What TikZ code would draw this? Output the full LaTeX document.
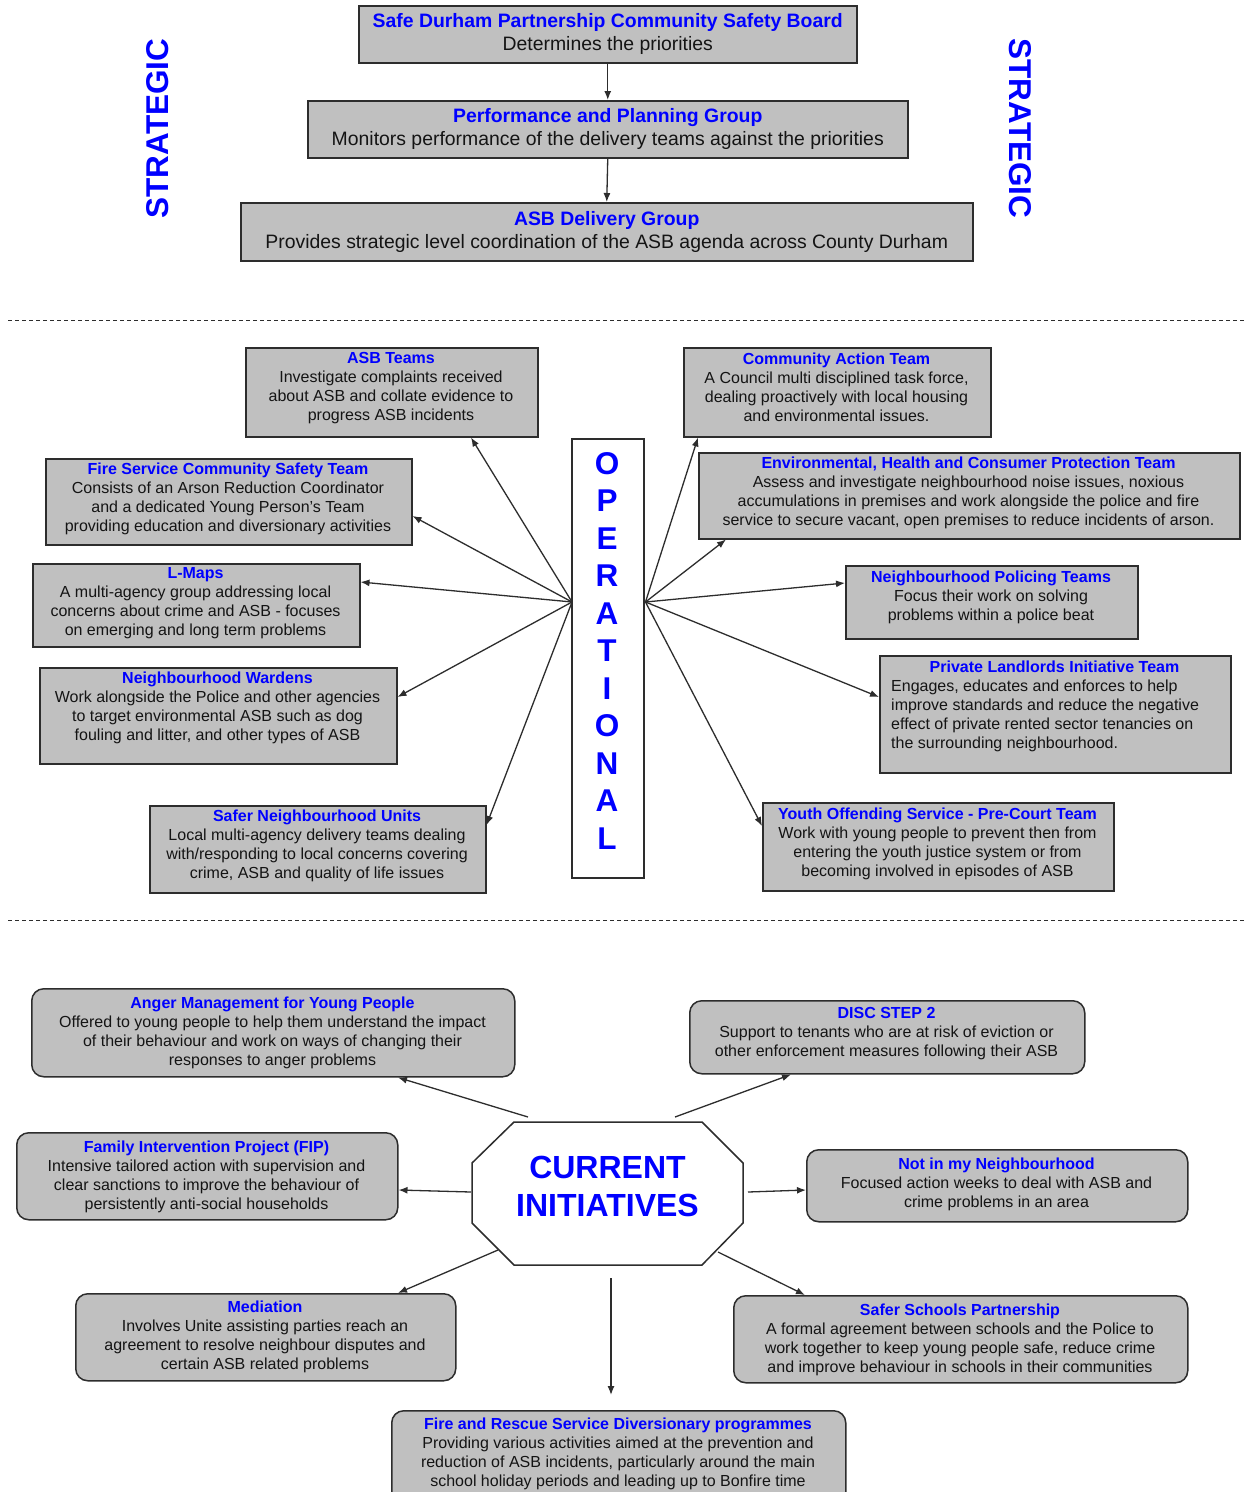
\documentclass[tikz,border=0pt]{standalone}
\usepackage{fontspec}
\setmainfont{Liberation Sans}
\usetikzlibrary{arrows.meta,calc}
\definecolor{boxgray}{RGB}{192,192,192}
\definecolor{hblue}{RGB}{0,0,255}
\definecolor{bordc}{RGB}{45,45,45}
\definecolor{txtc}{RGB}{20,20,20}
\newcommand{\hd}[1]{{\bfseries\color{hblue}#1}}
\newcommand{\bodyf}{\fontsize{16}{19}\selectfont}
\newcommand{\topf}{\fontsize{19.4}{23}\selectfont}
\begin{document}
\begin{tikzpicture}[x=1pt,y=-1pt,
 box/.style={draw=bordc, fill=boxgray, line width=1.5pt, inner sep=0pt, anchor=north west},
 rbox/.style={box, rounded corners=12pt},
 txt/.style={align=center, font=\bodyf, inner sep=0pt, anchor=north, text=txtc},
 arr/.style={draw=bordc, line width=1.3pt, -{Latex[length=9pt,width=7pt]}},
 sepline/.style={draw=bordc, line width=1pt, dash pattern=on 4pt off 3pt},
 big/.style={font=\fontsize{31.5}{37.5}\selectfont\bfseries, text=hblue, inner sep=0pt, align=center}
]
\fill[white] (0,0) rectangle (1247,1492);
\useasboundingbox (0,0) rectangle (1247,1492);

% ---------- strategic ----------
\node[box, minimum width=498, minimum height=57, align=center, font=\topf, text=txtc] (sdp) at (358,5)
  {\hd{Safe Durham Partnership Community Safety Board}\\Determines the priorities};
\node[box, minimum width=600, minimum height=57, align=center, font=\topf, text=txtc] (ppg) at (307,100)
  {\hd{Performance and Planning Group}\\Monitors performance of the delivery teams against the priorities};
\node[box, minimum width=732, minimum height=58, align=center, font=\topf, text=txtc] (adg) at (240,202)
  {\hd{ASB Delivery Group}\\Provides strategic level coordination of the ASB agenda across County Durham};
\draw[arr] (sdp.south) -- (ppg.north);
\draw[arr] (ppg.south) -- (adg.north);
\node[big, rotate=90] (sl) at (158,128.5) {STRATEGIC};
\node[big, rotate=-90] (sr) at (1020,128.5) {STRATEGIC};

\draw[sepline] (8,320) -- (1247,320);
\draw[sepline] (8,920) -- (1247,920);

% ---------- operational ----------
\node[draw=bordc, fill=white, line width=1.5pt, minimum width=72, minimum height=439, anchor=north west, inner sep=0pt] (op) at (571,438) {};
\node[big] (opt) at (607,650.5) {O\\P\\E\\R\\A\\T\\I\\O\\N\\A\\L};
\coordinate (opL) at ($(op.north west)+(1,164)$);
\coordinate (opR) at ($(op.north east)+(1,164)$);

\node[box, minimum width=292, minimum height=89] (asb) at (245,347) {};
\node[txt] (asbt) at (391,352.5) {\hd{ASB Teams}\\Investigate complaints received\\about ASB and collate evidence to\\progress ASB incidents};

\node[box, minimum width=366, minimum height=86] (fire) at (45,458) {};
\node[txt] (firet) at (228,462.5) {\hd{Fire Service Community Safety Team}\\Consists of an Arson Reduction Coordinator\\and a dedicated Young Person's Team\\providing education and diversionary activities};

\node[box, minimum width=327, minimum height=83] (lmap) at (32,563) {};
\node[txt] (lmapt) at (195.5,567.5) {\hd{L-Maps}\\A multi-agency group addressing local\\concerns about crime and ASB - focuses\\on emerging and long term problems};

\node[box, minimum width=357, minimum height=96] (nw) at (39,667) {};
\node[txt] (nwt) at (217.5,671.5) {\hd{Neighbourhood Wardens}\\Work alongside the Police and other agencies\\to target environmental ASB such as dog\\fouling and litter, and other types of ASB};

\node[box, minimum width=336, minimum height=87] (snu) at (149,805) {};
\node[txt] (snut) at (317,809.5) {\hd{Safer Neighbourhood Units}\\Local multi-agency delivery teams dealing\\with/responding to local concerns covering\\crime, ASB and quality of life issues};

\node[box, minimum width=307, minimum height=89] (cat) at (683,347) {};
\node[txt] (catt) at (836.5,352.5) {\hd{Community Action Team}\\A Council multi disciplined task force,\\dealing proactively with local housing\\and environmental issues.};

\node[box, minimum width=541, minimum height=86] (ehc) at (698,452) {};
\node[txt] (ehct) at (968.5,456.5) {\hd{Environmental, Health and Consumer Protection Team}\\Assess and investigate neighbourhood noise issues, noxious\\accumulations in premises and work alongside the police and fire\\service to secure vacant, open premises to reduce incidents of arson.};

\node[box, minimum width=292, minimum height=73] (npt) at (845,565) {};
\node[txt] (nptt) at (991,570.5) {\hd{Neighbourhood Policing Teams}\\Focus their work on solving\\problems within a police beat};

\node[box, minimum width=351, minimum height=117] (pli) at (879,655) {};
\node[txt] (plih) at (1054.5,660.5) {\hd{Private Landlords Initiative Team}};
\node[txt, align=left, anchor=north west] (plit) at (891,679.5) {Engages, educates and enforces to help\\improve standards and reduce the negative\\effect of private rented sector tenancies on\\the surrounding neighbourhood.};

\node[box, minimum width=351, minimum height=88] (yos) at (762,802) {};
\node[txt] (yost) at (937.5,807.5) {\hd{Youth Offending Service - Pre-Court Team}\\Work with young people to prevent then from\\entering the youth justice system or from\\becoming involved in episodes of ASB};

\draw[arr] (opL) -- ($(asb.south west)+(226,0)$);
\draw[arr] (opL) -- ($(fire.north east)+(0,58)$);
\draw[arr] (opL) -- ($(lmap.north east)+(0,19)$);
\draw[arr] (opL) -- ($(nw.north east)+(0,30)$);
\draw[arr] (opL) -- ($(snu.north east)+(0,20)$);
\draw[arr] (opR) -- ($(cat.south west)+(15,0)$);
\draw[arr] (opR) -- ($(ehc.south west)+(28,0)$);
\draw[arr] (opR) -- ($(npt.north west)+(0,18)$);
\draw[arr] (opR) -- ($(pli.north west)+(0,42)$);
\draw[arr] (opR) -- ($(yos.north west)+(0,24)$);

% ---------- current initiatives ----------
\draw[draw=bordc, line width=1.5pt, fill=white] (514,1122) -- (702,1122) -- (743,1163) -- (743,1223) -- (702,1265) -- (514,1265) -- (472,1223) -- (472,1163) -- cycle;
\node[big, font=\fontsize{32}{38}\selectfont\bfseries] (cit) at (607.5,1186) {CURRENT\\INITIATIVES};

\node[rbox, minimum width=483, minimum height=88] (ang) at (31,988) {};
\node[txt] (angt) at (272.5,996.5) {\hd{Anger Management for Young People}\\Offered to young people to help them understand the impact\\of their behaviour and work on ways of changing their\\responses to anger problems};

\node[rbox, minimum width=395, minimum height=73] (disc) at (689,1000) {};
\node[txt] (disct) at (886.5,1007.5) {\hd{DISC STEP 2}\\Support to tenants who are at risk of eviction or\\other enforcement measures following their ASB};

\node[rbox, minimum width=381, minimum height=87] (fip) at (16,1132) {};
\node[txt] (fipt) at (206.5,1140.5) {\hd{Family Intervention Project (FIP)}\\Intensive tailored action with supervision and\\clear sanctions to improve the behaviour of\\persistently anti-social households};

\node[rbox, minimum width=381, minimum height=72] (nim) at (806,1149) {};
\node[txt] (nimt) at (996.5,1157.5) {\hd{Not in my Neighbourhood}\\Focused action weeks to deal with ASB and\\crime problems in an area};

\node[rbox, minimum width=380, minimum height=87] (med) at (75,1293) {};
\node[txt] (medt) at (265,1300.5) {\hd{Mediation}\\Involves Unite assisting parties reach an\\agreement to resolve neighbour disputes and\\certain ASB related problems};

\node[rbox, minimum width=454, minimum height=87] (ssp) at (733,1295) {};
\node[txt] (sspt) at (960,1303.5) {\hd{Safer Schools Partnership}\\A formal agreement between schools and the Police to\\work together to keep young people safe, reduce crime\\and improve behaviour in schools in their communities};

\node[rbox, minimum width=454, minimum height=100] (frs) at (391,1410) {};
\node[txt] (frst) at (618,1417.5) {\hd{Fire and Rescue Service Diversionary programmes}\\Providing various activities aimed at the prevention and\\reduction of ASB incidents, particularly around the main\\school holiday periods and leading up to Bonfire time};

\coordinate (sA) at (528,1117);
\coordinate (sD) at (675,1117);
\coordinate (sF) at (471,1192);
\coordinate (sN) at (748,1192);
\coordinate (sM) at (498,1250);
\coordinate (sS) at (718,1252);
\coordinate (sR) at (611,1278);
\coordinate (eR) at (611,1395);
\draw[arr] (sA) -- ($(ang.south west)+(367,0)$);
\draw[arr] (sD) -- ($(disc.south west)+(102,0)$);
\draw[arr] (sF) -- ($(fip.north east)+(0,58)$);
\draw[arr] (sN) -- ($(nim.north west)+(0,41)$);
\draw[arr] (sM) -- ($(med.north west)+(323,0)$);
\draw[arr] (sS) -- ($(ssp.north west)+(72,0)$);
\draw[arr] (sR) -- (eR);
\end{tikzpicture}
\end{document}
